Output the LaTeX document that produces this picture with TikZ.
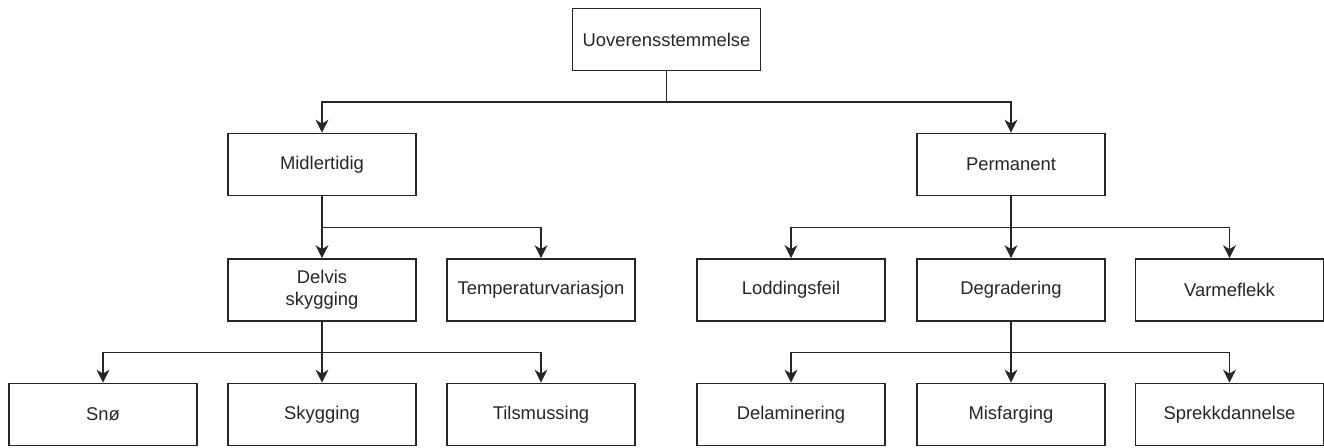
\documentclass[tikz,border=0pt]{standalone}
\usepackage{fontspec}
\setmainfont{Liberation Sans}
\usetikzlibrary{arrows.meta,calc}
\begin{document}
\begin{tikzpicture}[x=1pt,y=-1pt,
  box/.style={draw=black!85,line width=1.7pt,minimum width=188pt,minimum height=62pt,inner sep=0pt,align=center,font=\fontsize{18.4}{22}\selectfont,text=black!85},
  conn/.style={draw=black!85,line width=1.2pt,-{Stealth[length=13pt,width=13pt,inset=4pt]},
    to path={(\tikztostart) |- ($(\tikztostart)!.5!(\tikztotarget)$) -| (\tikztotarget)}}]
\useasboundingbox (0,0) rectangle (1324,447);
\node[box] (u) at (666.5,39.5) {Uoverensstemmelse};
\node[box] (mid) at (322,164.5) {Midlertidig};
\node[box] (perm) at (1011,164.5) {Permanent};
\node[box] (delv) at (322,290) {Delvis\\skygging};
\node[box] (temp) at (541,290) {Temperaturvariasjon};
\node[box] (lodd) at (791,290) {Loddingsfeil};
\node[box] (degr) at (1011,290) {Degradering};
\node[box] (varm) at (1229.5,290) {Varmeflekk};
\node[box] (sno) at (103,414.5) {Snø};
\node[box] (skyg) at (322,414.5) {Skygging};
\node[box] (tils) at (541,414.5) {Tilsmussing};
\node[box] (dela) at (791,414.5) {Delaminering};
\node[box] (misf) at (1011,414.5) {Misfarging};
\node[box] (spre) at (1229.5,414.5) {Sprekkdannelse};
\draw[conn] (u.south) to (mid.north);
\draw[conn] (u.south) to (perm.north);
\draw[conn] (mid.south) to (delv.north);
\draw[conn] (mid.south) to (temp.north);
\draw[conn] (perm.south) to (lodd.north);
\draw[conn] (perm.south) to (degr.north);
\draw[conn] (perm.south) to (varm.north);
\draw[conn] (delv.south) to (sno.north);
\draw[conn] (delv.south) to (skyg.north);
\draw[conn] (delv.south) to (tils.north);
\draw[conn] (degr.south) to (dela.north);
\draw[conn] (degr.south) to (misf.north);
\draw[conn] (degr.south) to (spre.north);
\end{tikzpicture}
\end{document}
